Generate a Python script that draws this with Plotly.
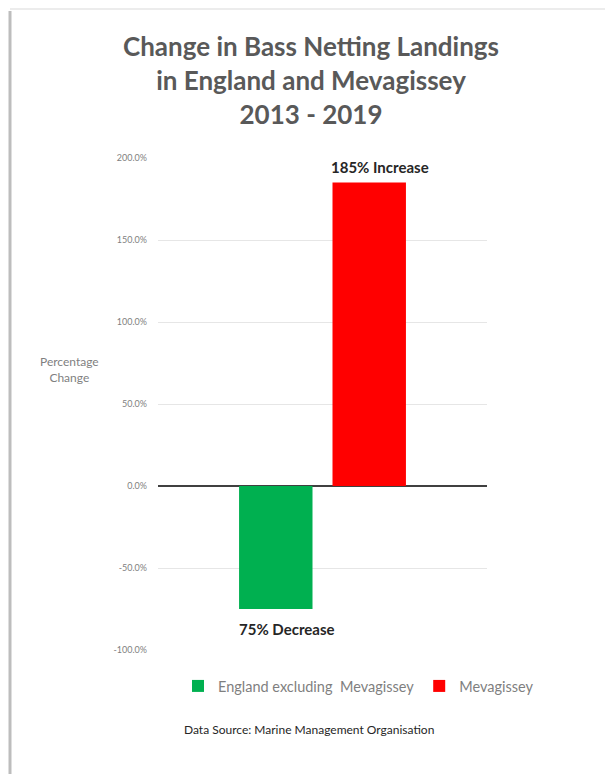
import plotly.graph_objects as go

series_names = ["England excluding\u00a0\u00a0Mevagissey", "Mevagissey"]
values = [-75.0, 185.0]
bar_labels = ["75% Decrease", "185% Increase"]
colors = ["#00B050", "#FF0000"]
category = ["2013 - 2019"]
tick_vals = [-100, -50, 0, 50, 100, 150, 200]
tick_text = ["-100.0%", "-50.0%", "0.0%", "50.0%", "100.0%", "150.0%", "200.0%"]

W, H = 605, 774
L, R, T, B = 158, 118, 158, 124
pw, ph = W - L - R, H - T - B
BARGAP, BARGROUPGAP = 0.432, 0.214

def px(x):
    return (x - L) / pw

def py(y):
    return (H - B - y) / ph

fig = go.Figure()
for name, v, c in zip(series_names, values, colors):
    fig.add_trace(go.Bar(
        x=category, y=[v], name=name, marker=dict(color=c, line=dict(width=0)),
    ))

fig.update_layout(
    width=W, height=H,
    margin=dict(l=L, r=R, t=T, b=B, autoexpand=False),
    paper_bgcolor="white", plot_bgcolor="white",
    barmode="group", bargap=BARGAP, bargroupgap=BARGROUPGAP,
    font=dict(family="Lato", color="#595959"),
    title=dict(
        text="Change in Bass Netting Landings<br>in England and Mevagissey<br>2013 - 2019",
        x=311 / W, xanchor="center", xref="container",
        y=1 - 56 / H, yanchor="top", yref="container",
        font=dict(family="Lato", size=26, color="#595959", weight="bold"),
    ),
    xaxis=dict(type="category", range=[-0.5, 0.5], showticklabels=False, showgrid=False,
               zeroline=False, showline=False, fixedrange=True),
    yaxis=dict(
        range=[-100, 200], tickvals=tick_vals, ticktext=tick_text,
        tickfont=dict(family="Lato", size=9, color="#7f7f7f"),
        showgrid=True, gridcolor="#e6e6e6", gridwidth=1,
        zeroline=True, zerolinecolor="#404040", zerolinewidth=2,
        showline=False, ticks="", ticklabelstandoff=10,
    ),
    legend=dict(
        orientation="h", x=px(539), xanchor="right", y=py(686), yanchor="middle",
        font=dict(family="Lato", size=14.5, color="#7f7f7f"),
        itemwidth=30, traceorder="normal",
    ),
    showlegend=True,
)

# bar value labels, placed from the group geometry
slot = (1 - BARGAP) / 2
n = len(values)
for i, (v, lab) in enumerate(zip(values, bar_labels)):
    offset = (i - (n - 1) / 2) * slot * pw + 11
    fig.add_annotation(
        text=lab, xref="x", yref="y", x=0, y=v, xshift=offset,
        yshift=16 if v >= 0 else -20, showarrow=False, yanchor="middle",
        font=dict(family="Lato", size=15, color="#262626", weight="bold"),
    )

fig.add_annotation(text="Percentage<br>Change", xref="paper", yref="paper",
                   x=px(69), y=py(369), xanchor="center", yanchor="middle", showarrow=False,
                   font=dict(family="Lato", size=12, color="#7f7f7f"))
fig.add_annotation(text="Data Source: Marine Management Organisation", xref="paper", yref="paper",
                   x=px(309), y=py(729), xanchor="center", yanchor="middle", showarrow=False,
                   font=dict(family="Lato", size=12, color="#262626"))

# page frame / shadow
fig.add_shape(type="line", xref="paper", yref="paper", x0=px(10), x1=px(10), y0=py(11), y1=py(774),
              line=dict(color="#bdbdbd", width=3))
fig.add_shape(type="line", xref="paper", yref="paper", x0=px(10), x1=px(605), y0=py(9), y1=py(9),
              line=dict(color="#ececec", width=2))

fig.write_html("out.html")
